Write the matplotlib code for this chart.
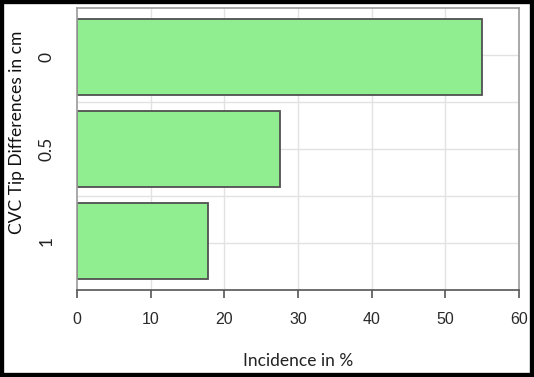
import numpy as np
import matplotlib
matplotlib.use("Agg")
import matplotlib.pyplot as plt
from matplotlib.patches import Rectangle

plt.rcParams["font.family"] = ["Liberation Sans", "DejaVu Sans"]

categories = ["0", "0.5", "1"]
incidence = [55.0, 27.5, 17.8]
x_ticks = [0, 10, 20, 30, 40, 50, 60]

W, H = 534, 377
fig = plt.figure(figsize=(W / 100, H / 100), dpi=100)
fig.patch.set_facecolor("white")

# axes box in pixels
L, R, T, B = 77, 519, 8, 290
ax = fig.add_axes([L / W, 1 - B / H, (R - L) / W, (B - T) / H])

pos = np.arange(len(categories))
ylo, yhi = -0.535, 2.535
ax.set_ylim(yhi, ylo)
ax.set_xlim(0, 60)

# grid
for gx in x_ticks[1:-1]:
    ax.axvline(gx, color="#e2e2e2", lw=1.0, zorder=0)
for gy in np.linspace(ylo, yhi, 7)[1:-1]:
    ax.axhline(gy, color="#e2e2e2", lw=1.0, zorder=0)

ax.barh(pos, incidence, height=0.826, color="#90EE90", edgecolor="#505050",
        linewidth=1.3, zorder=2)

for s in ["top", "left", "right"]:
    ax.spines[s].set_color("#9a9a9a")
    ax.spines[s].set_linewidth(1.2)
ax.spines["bottom"].set_color("#555555")
ax.spines["bottom"].set_linewidth(1.2)

ax.set_xticks(x_ticks)
ax.set_xticklabels([str(v) for v in x_ticks], fontsize=11.5, color="#2a2a2a")
ax.tick_params(axis="x", direction="out", length=6, width=1.2, color="#555555", pad=10)

ax.set_yticks(pos)
ax.set_yticklabels(categories, family="Lato", fontsize=12.5, color="#222222",
                   rotation=90, va="center")
ax.tick_params(axis="y", length=0, pad=16)

fig.text((L + R) / 2 / W, 1 - 361 / H, "Incidence in %", family="Lato",
         fontsize=12.5, color="#222222", ha="center", va="center")
fig.text(17 / W, 1 - 132 / H, "CVC Tip Differences in cm", family="Lato",
         fontsize=12.5, color="#111111", ha="center", va="center", rotation=90)

# black frame
fig.patches.append(Rectangle((0, 0), 1, 1, transform=fig.transFigure,
                             fill=False, edgecolor="black", linewidth=6,
                             zorder=10))

fig.savefig("out.png", dpi=100, facecolor="white")
